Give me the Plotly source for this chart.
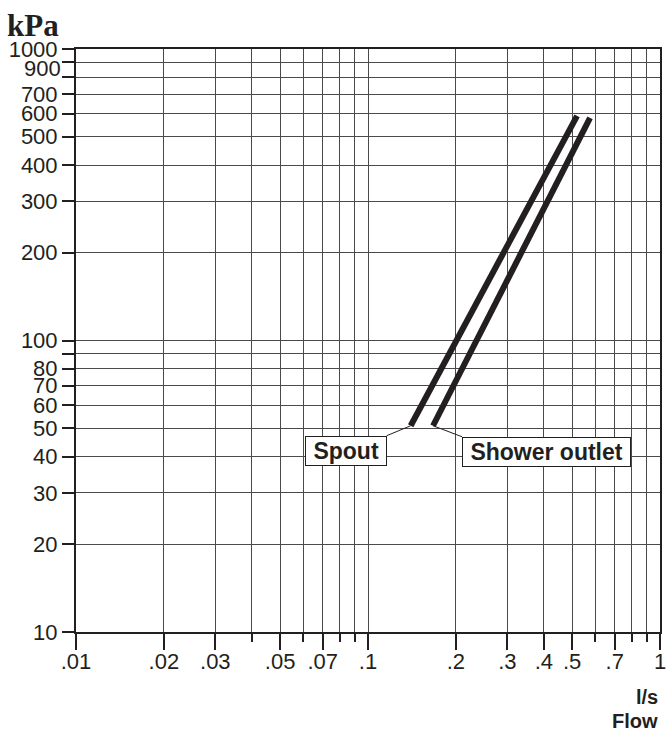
import math
import plotly.graph_objects as go

# Data
spout_flow = [0.14, 0.52]
spout_kpa = [51, 590]
shower_flow = [0.167, 0.576]
shower_kpa = [51, 580]

x_major = [0.01, 0.02, 0.03, 0.05, 0.07, 0.1, 0.2, 0.3, 0.4, 0.5, 0.7, 1]
x_major_text = [".01", ".02", ".03", ".05", ".07", ".1", ".2", ".3", ".4", ".5", ".7", "1"]
x_minor = [0.04, 0.06, 0.08, 0.09, 0.6, 0.8, 0.9]
y_major = [10, 20, 30, 40, 50, 60, 70, 80, 100, 200, 300, 400, 500, 600, 700, 900, 1000]
y_major_text = ["10", "20", "30", "40", "50", "60", "70", "80", "100", "200", "300",
                "400", "500", "600", "700", "900", "1000"]
y_minor = [90, 800]

INK = "#231f20"
GRID = "#4a4a4a"
SANS = "Liberation Sans, Arial, Helvetica, sans-serif"

# 900 label is nudged down in the original to avoid 1000; draw it separately
y_tick_text = [t if v != 900 else "" for v, t in zip(y_major, y_major_text)]

fig = go.Figure()
fig.add_trace(go.Scatter(x=spout_flow, y=spout_kpa, mode="lines",
                         line=dict(color=INK, width=6), showlegend=False, hoverinfo="skip"))
fig.add_trace(go.Scatter(x=shower_flow, y=shower_kpa, mode="lines",
                         line=dict(color=INK, width=6), showlegend=False, hoverinfo="skip"))

fig.update_layout(
    width=669, height=731,
    margin=dict(l=76, r=9, t=49, b=99),
    paper_bgcolor="white", plot_bgcolor="white",
    showlegend=False,
    font=dict(family=SANS, color=INK),
)

fig.update_xaxes(
    type="log", range=[-2, 0], automargin=False,
    tickmode="array", tickvals=x_major, ticktext=x_major_text,
    ticks="outside", ticklen=16, tickwidth=2, tickcolor=INK,
    tickfont=dict(family=SANS, size=22, color=INK),
    showgrid=True, gridcolor=GRID, gridwidth=1,
    showline=True, linecolor=INK, linewidth=2, mirror=True,
    zeroline=False,
    minor=dict(tickmode="array", tickvals=x_minor, ticks="outside", ticklen=8,
               tickwidth=2, tickcolor=INK, showgrid=True, gridcolor=GRID, gridwidth=1),
)
try:
    fig.update_xaxes(ticklabelstandoff=-7)
except Exception:
    pass
fig.update_yaxes(
    type="log", range=[1, 3], automargin=False,
    tickmode="array", tickvals=y_major, ticktext=y_tick_text,
    ticks="outside", ticklen=12, tickwidth=2, tickcolor=INK,
    tickfont=dict(family=SANS, size=22, color=INK),
    showgrid=True, gridcolor=GRID, gridwidth=1,
    showline=True, linecolor=INK, linewidth=2, mirror=True,
    zeroline=False,
    minor=dict(tickmode="array", tickvals=y_minor, ticks="outside", ticklen=12,
               tickwidth=2, tickcolor=INK, showgrid=True, gridcolor=GRID, gridwidth=1),
)

for v, t in zip(y_major, y_major_text):
    if v == 900:
        fig.add_annotation(x=0, y=math.log10(v), xref="paper", yref="y",
                           xanchor="right", yanchor="middle", xshift=-13, yshift=-6,
                           text=t, showarrow=False,
                           font=dict(family=SANS, size=22, color=INK))

fig.add_annotation(x=math.log10(spout_flow[0]), y=math.log10(spout_kpa[0]), xref="x", yref="y",
                   text="&nbsp;<b>Spout</b>&nbsp;", showarrow=True, arrowhead=0, arrowwidth=1,
                   arrowcolor=INK, ax=-24, ay=10, xanchor="right", yanchor="top",
                   bordercolor=INK, borderwidth=1, borderpad=1, bgcolor="white",
                   font=dict(family=SANS, size=23, color=INK))
fig.add_annotation(x=math.log10(shower_flow[0]), y=math.log10(shower_kpa[0]), xref="x", yref="y",
                   text="&nbsp;<b>Shower outlet</b>&nbsp;", showarrow=True, arrowhead=0, arrowwidth=1,
                   arrowcolor=INK, ax=29, ay=11, xanchor="left", yanchor="top",
                   bordercolor=INK, borderwidth=1, borderpad=1, bgcolor="white",
                   font=dict(family=SANS, size=23, color=INK))

fig.add_annotation(x=-0.122, y=1.040, xref="paper", yref="paper", xanchor="left", yanchor="middle",
                   text="<b>kPa</b>", showarrow=False,
                   font=dict(family="Liberation Serif, Times New Roman, serif", size=31, color=INK))
fig.add_annotation(x=1.0, y=-0.1115, xref="paper", yref="paper", xanchor="right", yanchor="middle",
                   text="<b>l/s</b>", showarrow=False,
                   font=dict(family=SANS, size=20, color=INK))
fig.add_annotation(x=1.0, y=-0.1525, xref="paper", yref="paper", xanchor="right", yanchor="middle",
                   text="<b>Flow</b>", showarrow=False,
                   font=dict(family=SANS, size=20, color=INK))

fig.write_html("out.html", config={"displayModeBar": False},
               post_script="document.body.style.margin='0';document.body.style.overflow='hidden';")
